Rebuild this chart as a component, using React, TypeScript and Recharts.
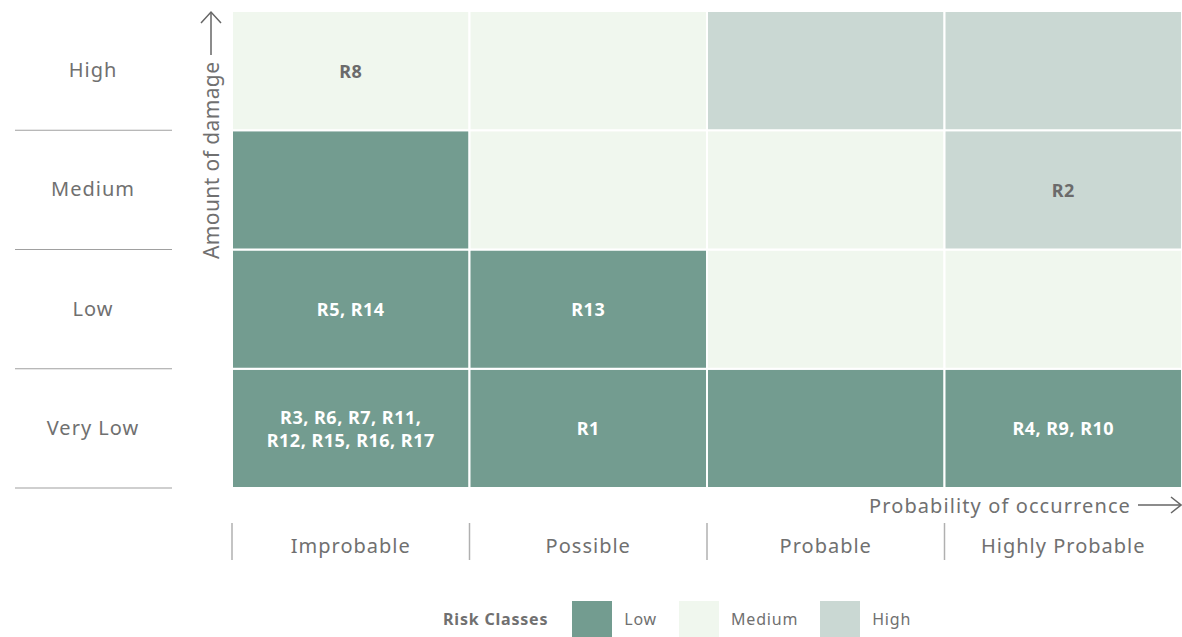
import React from 'react';
import { ScatterChart, Scatter, XAxis, YAxis, ReferenceArea, Legend } from 'recharts';

const FONT = '"Noto Sans", "Open Sans", sans-serif';
const TEXT_GRAY = '#707070';

// Columns: probability of occurrence
const probabilityLabels = ['Improbable', 'Possible', 'Probable', 'Highly Probable'];
// Rows: amount of damage, bottom to top
const damageLabels = ['Very Low', 'Low', 'Medium', 'High'];

// Risk classes and their colours
const riskClasses = ['Low', 'Medium', 'High'];
const riskColors = ['#739c90', '#f0f7ee', '#cad8d3'];
const riskTextColors = ['#ffffff', '#6b6b6b', '#6b6b6b'];

// Risk class index per cell, one array per damage row (columns Improbable..Highly Probable)
const veryLowClasses = [0, 0, 0, 0];
const lowClasses = [0, 0, 1, 1];
const mediumClasses = [0, 1, 1, 2];
const highClasses = [1, 1, 2, 2];

// Risks per cell (each entry is a list of text lines)
const veryLowRisks = [['R3, R6, R7, R11,', 'R12, R15, R16, R17'], ['R1'], [], ['R4, R9, R10']];
const lowRisks = [['R5, R14'], ['R13'], [], []];
const mediumRisks = [[], [], [], ['R2']];
const highRisks = [['R8'], [], [], []];

const classRows = [veryLowClasses, lowClasses, mediumClasses, highClasses];
const riskRows = [veryLowRisks, lowRisks, mediumRisks, highRisks];

const cells = classRows.flatMap((row, r) =>
  row.map((cls, c) => ({
    x0: c,
    x1: c + 1,
    y0: r,
    y1: r + 1,
    x: c + 0.5,
    y: r + 0.5,
    cls,
    lines: riskRows[r][c],
  }))
);

const xTicks = probabilityLabels.flatMap((_, i) => [i, i + 0.5]);
const yTicks = damageLabels.flatMap((_, i) => [i, i + 0.5]);

const XTick = (props: any) => {
  const { x, y, payload } = props;
  const v = payload.value as number;
  if (Number.isInteger(v)) {
    return <line x1={x} x2={x} y1={y + 35} y2={y + 72} stroke="#b0b0b0" strokeWidth={1.5} />;
  }
  return (
    <text x={x} y={y + 57} textAnchor="middle" dominantBaseline="central" fontFamily={FONT} fontSize={20} letterSpacing={1} fill={TEXT_GRAY}>
      {probabilityLabels[Math.floor(v)]}
    </text>
  );
};

const YTick = (props: any) => {
  const { x, y, payload } = props;
  const v = payload.value as number;
  if (Number.isInteger(v)) {
    return <line x1={x - 217} x2={x - 60} y1={y} y2={y} stroke="#a0a0a0" strokeWidth={1.2} />;
  }
  return (
    <text x={x - 139} y={y - 1} textAnchor="middle" dominantBaseline="central" fontFamily={FONT} fontSize={20} letterSpacing={1} fill={TEXT_GRAY}>
      {damageLabels[Math.floor(v)]}
    </text>
  );
};

const YTitle = (props: any) => {
  const vb = props.viewBox || {};
  const cx = (vb.x ?? 0) + (vb.width ?? 232) - 21;
  const top = vb.y ?? 11;
  const base = top + 248;
  return (
    <g>
      <text
        x={cx}
        y={base}
        transform={`rotate(-90, ${cx}, ${base})`}
        textAnchor="start"
        dominantBaseline="central"
        fontFamily={FONT}
        fontSize={21}
        letterSpacing={0.4}
        fill={TEXT_GRAY}
      >
        Amount of damage
      </text>
      <line x1={cx} x2={cx} y1={top + 1} y2={top + 44} stroke="#666" strokeWidth={1.5} />
      <polyline points={`${cx - 10},${top + 12} ${cx},${top + 1} ${cx + 10},${top + 12}`} fill="none" stroke="#666" strokeWidth={1.5} />
    </g>
  );
};

const XTitle = (props: any) => {
  const vb = props.viewBox || {};
  const right = (vb.x ?? 232) + (vb.width ?? 950);
  const cy = (vb.y ?? 488) + 17;
  return (
    <g>
      <text x={right - 51} y={cy} textAnchor="end" dominantBaseline="central" fontFamily={FONT} fontSize={20} letterSpacing={1.1} fill={TEXT_GRAY}>
        Probability of occurrence
      </text>
      <line x1={right - 44} x2={right - 1} y1={cy} y2={cy} stroke="#666" strokeWidth={1.5} />
      <polyline points={`${right - 11},${cy - 8} ${right - 1},${cy} ${right - 11},${cy + 8}`} fill="none" stroke="#666" strokeWidth={1.5} />
    </g>
  );
};

const CellLabel = (props: any) => {
  const { cx, cy, payload } = props;
  const lines: string[] = payload.lines;
  if (!lines || lines.length === 0) return <g />;
  const lh = 23;
  const start = cy - ((lines.length - 1) * lh) / 2;
  return (
    <text textAnchor="middle" fontFamily={FONT} fontWeight={700} fontSize={18} letterSpacing={0.5} fill={riskTextColors[payload.cls]}>
      {lines.map((ln, i) => (
        <tspan key={i} x={cx} y={start + i * lh} dominantBaseline="central">
          {ln}
        </tspan>
      ))}
    </text>
  );
};

const LegendContent = () => (
  <div style={{ display: 'flex', alignItems: 'center', height: 36, fontFamily: FONT, fontSize: 16, letterSpacing: 0.8, color: TEXT_GRAY, whiteSpace: 'nowrap' }}>
    <span style={{ fontWeight: 700, marginRight: 24 }}>Risk Classes</span>
    {riskClasses.map((name, i) => (
      <span key={name} style={{ display: 'flex', alignItems: 'center', marginRight: 22 }}>
        <span style={{ display: 'inline-block', width: 40, height: 36, background: riskColors[i], marginRight: 12 }} />
        <span>{name}</span>
      </span>
    ))}
  </div>
);

export default function App() {
  return (
    <div style={{ position: 'absolute', left: 0, top: 0, width: 1182, height: 637, background: '#fff' }}>
      <ScatterChart width={1182} height={637} margin={{ top: 11, right: 0, bottom: 0, left: 0 }}>
        <XAxis
          type="number"
          dataKey="x"
          domain={[0, 4]}
          ticks={xTicks}
          interval={0}
          height={149}
          axisLine={false}
          tickLine={false}
          tickSize={0}
          tickMargin={0}
          tick={<XTick />}
          label={<XTitle />}
          allowDataOverflow
        />
        <YAxis
          type="number"
          dataKey="y"
          domain={[0, 4]}
          ticks={yTicks}
          interval={0}
          width={232}
          axisLine={false}
          tickLine={false}
          tickSize={0}
          tickMargin={0}
          tick={<YTick />}
          label={<YTitle />}
          allowDataOverflow
        />
        {cells.map((c, i) => (
          <ReferenceArea
            key={i}
            x1={c.x0}
            x2={c.x1}
            y1={c.y0}
            y2={c.y1}
            fill={riskColors[c.cls]}
            fillOpacity={1}
            stroke="#ffffff"
            strokeWidth={2}
            ifOverflow="visible"
          />
        ))}
        <Scatter data={cells} isAnimationActive={false} shape={<CellLabel />} />
        <Legend
          layout="vertical"
          align="center"
          verticalAlign="middle"
          wrapperStyle={{ left: 443, top: 601, width: 'auto' }}
          content={() => <LegendContent />}
        />
      </ScatterChart>
    </div>
  );
}
